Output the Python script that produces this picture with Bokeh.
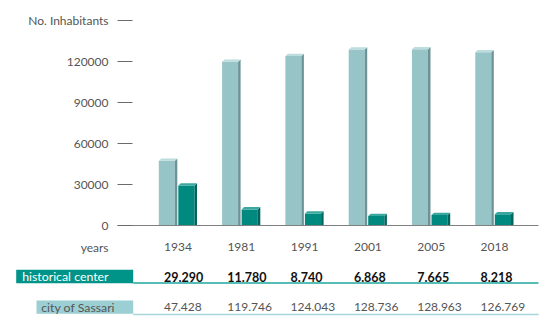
import numpy as np
from bokeh.plotting import figure
from bokeh.models import Range1d
from bokeh.core.properties import value
from bokeh.embed import file_html
from bokeh.resources import INLINE

# ---- data ----
years = ["1934", "1981", "1991", "2001", "2005", "2018"]
historical_center = [29290, 11780, 8740, 6868, 7665, 8218]
city_of_sassari = [47428, 119746, 124043, 128736, 128963, 126769]
y_ticks = [0, 30000, 60000, 90000, 120000, 150000]
y_tick_labels = ["0", "30000", "60000", "90000", "120000", "No. Inhabitants"]
row_labels = ["historical center", "city of Sassari"]

def fmt(v):
    return f"{v:,}".replace(",", ".")

# ---- layout constants (pixels) ----
W, H = 550, 325
PX = 63.3          # px per year group
C0 = 177.5         # x of the first group centre
ZERO_Y = 225       # y of value 0
VPP = 30000 / 41   # value units per pixel
FONT = value("Lato")

p = figure(width=W, height=H, output_backend="svg", toolbar_location=None,
           x_range=Range1d(-C0 / PX, (W - C0) / PX),
           y_range=Range1d(-(H - ZERO_Y) * VPP, ZERO_Y * VPP),
           x_axis_location=None, y_axis_location=None,
           min_border=0, outline_line_color=None,
           background_fill_color="white", border_fill_color="white")
p.extra_x_ranges = {"px": Range1d(0, W)}
p.extra_y_ranges = {"px": Range1d(H, 0)}
p.xgrid.grid_line_color = None
p.ygrid.grid_line_color = None

idx = np.arange(len(years), dtype=float)
dx = 2.5 / PX
dy = 2.3 * VPP

def bar3d(vals, left, right, front, side, topc):
    vals = np.asarray(vals, dtype=float)
    x0 = idx + left / PX
    x1 = idx + right / PX
    p.vbar(x=(x0 + x1) / 2, width=(right - left) / PX, top=vals, bottom=0,
           fill_color=front, line_color=None)
    p.patches(xs=[[a, a, a + dx, a + dx] for a in x1],
              ys=[[0, v, v + dy, 0] for v in vals],
              fill_color=side, line_color=None)
    p.patches(xs=[[b, b + dx, a + dx, a] for a, b in zip(x1, x0)],
              ys=[[v, v + dy, v + dy, v] for v in vals],
              fill_color=topc, line_color=None)

bar3d(city_of_sassari, -19.2, -3.2, "#96C4C7", "#6C9496", "#BCDCDE")
bar3d(historical_center, 0.3, 16.5, "#008A7F", "#00645C", "#3AA89E")

# baseline (value 0)
p.segment(x0=[117], x1=[538], y0=[0], y1=[0], x_range_name="px",
          line_color="#808080", line_width=1)

# y ticks & labels
p.segment(x0=[117] * len(y_ticks), x1=[132] * len(y_ticks), y0=y_ticks, y1=y_ticks,
          x_range_name="px", line_color="#6b6b6b", line_width=1)
p.text(x=[108] * len(y_ticks), y=y_ticks, text=y_tick_labels, x_range_name="px",
       text_align="right", text_baseline="middle", text_font=FONT,
       text_font_size="12px", text_color="#555555")

# years row
YR_Y, HC_Y, CS_Y = 246.5, 276, 306.5
p.text(x=[108], y=[YR_Y], text=["years"], x_range_name="px", y_range_name="px",
       text_align="right", text_baseline="middle", text_font=FONT,
       text_font_size="12px", text_color="#555555")
p.text(x=idx, y=[YR_Y] * len(years), text=years, y_range_name="px",
       text_align="center", text_baseline="middle", text_font=FONT,
       text_font_size="12px", text_color="#555555")

# historical center row
p.quad(left=[15.7], right=[132.7], top=[269.3], bottom=[282.7],
       x_range_name="px", y_range_name="px", fill_color="#009488", line_color=None)
p.segment(x0=[132.7], x1=[538], y0=[282.6], y1=[282.6], x_range_name="px",
          y_range_name="px", line_color="#55BDB5", line_width=2)
p.text(x=[21.7], y=[HC_Y], text=[row_labels[0]], x_range_name="px", y_range_name="px",
       text_align="left", text_baseline="middle", text_font=FONT,
       text_font_size="12.3px", text_color="white")
p.text(x=idx, y=[HC_Y] * len(years), text=[fmt(v) for v in historical_center],
       y_range_name="px", x_offset=-14, text_align="left", text_baseline="middle",
       text_font=FONT, text_font_size="12.5px", text_font_style="bold",
       text_color="#111111")

# city of Sassari row
p.quad(left=[36], right=[132.7], top=[300], bottom=[313.3],
       x_range_name="px", y_range_name="px", fill_color="#9CCFD3", line_color=None)
p.segment(x0=[132.7], x1=[538], y0=[314], y1=[314], x_range_name="px",
          y_range_name="px", line_color="#A6D6DA", line_width=1.5)
p.text(x=[40.7], y=[CS_Y], text=[row_labels[1]], x_range_name="px", y_range_name="px",
       text_align="left", text_baseline="middle", text_font=FONT,
       text_font_size="12.3px", text_color="#555555")
p.text(x=idx, y=[CS_Y] * len(years), text=[fmt(v) for v in city_of_sassari],
       y_range_name="px", x_offset=-14, text_align="left", text_baseline="middle",
       text_font=FONT, text_font_size="12px", text_color="#555555")

open("out.html", "w").write(file_html(p, INLINE))
